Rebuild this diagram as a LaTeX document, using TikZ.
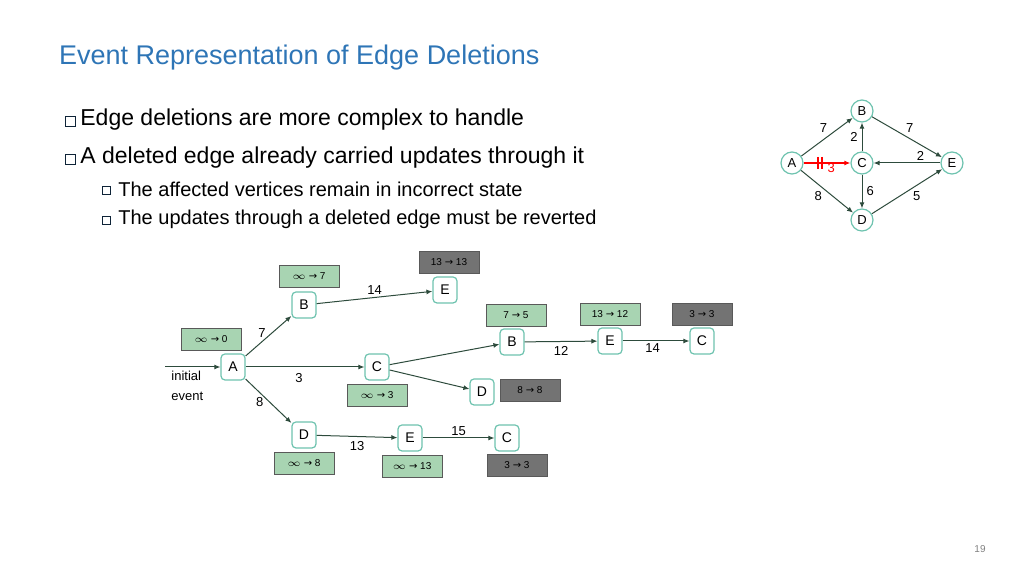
\documentclass[tikz,border=0pt]{standalone}
\usepackage{fontspec}
\setmainfont{Liberation Sans}
\newfontfamily\dv{DejaVu Sans}
\usetikzlibrary{arrows.meta}
\definecolor{ttl}{RGB}{46,117,182}
\definecolor{bord}{RGB}{110,195,175}
\definecolor{gfill}{RGB}{168,212,178}
\definecolor{dgray}{RGB}{115,115,115}
\definecolor{edg}{RGB}{45,75,60}
\tikzset{
 tn/.style={draw=bord,line width=0.6pt,rounded corners=2pt,fill=white,minimum width=12pt,minimum height=13pt,inner sep=0pt,font=\fontsize{7}{8}\selectfont},
 gbox/.style={draw=gray!70!black,line width=0.3pt,fill=gfill,minimum width=30pt,minimum height=11pt,inner sep=0pt,font=\fontsize{5}{6}\selectfont},
 kbox/.style={gbox,fill=dgray},
 ed/.style={draw=edg,line width=0.5pt,-{Latex[length=3pt,width=2.5pt]}},
 el/.style={font=\fontsize{6.5}{7}\selectfont,inner sep=0pt},
 cn/.style={circle,draw=bord,line width=0.6pt,minimum size=11pt,inner sep=0pt,fill=white,font=\fontsize{6.5}{7}\selectfont},
 bul/.style={draw=ttl!30!black,line width=0.4pt,minimum size=5pt,inner sep=0pt},
 sbul/.style={draw=ttl!30!black,line width=0.4pt,minimum size=4pt,inner sep=0pt},
}
\newcommand{\ar}{{\dv\char"2192}}
\begin{document}
\begin{tikzpicture}[x=0.5pt,y=-0.5pt]
\useasboundingbox (0,0) rectangle (1024,576);
\node[anchor=west,text=ttl,font=\fontsize{13.5}{15}\selectfont] (title) at (52,58) {Event Representation of Edge Deletions};
\node[bul] (b1) at (70,121) {};
\node[anchor=west,font=\fontsize{11.5}{13}\selectfont,inner sep=0pt] (t1) at (80,120) {Edge deletions are more complex to handle};
\node[bul] (b2) at (70,159) {};
\node[anchor=west,font=\fontsize{11.5}{13}\selectfont,inner sep=0pt] (t2) at (80,158) {A deleted edge already carried updates through it};
\node[sbul] (b3) at (106,190) {};
\node[anchor=west,font=\fontsize{10}{12}\selectfont,inner sep=0pt] (t3) at (118,189) {The affected vertices remain in incorrect state};
\node[sbul] (b4) at (106,220) {};
\node[anchor=west,font=\fontsize{10}{12}\selectfont,inner sep=0pt] (t4) at (118,219) {The updates through a deleted edge must be reverted};
% small graph
\node[cn] (gB) at (862,111) {B};
\node[cn] (gA) at (792,163) {A};
\node[cn] (gC) at (862,163) {C};
\node[cn] (gE) at (952,163) {E};
\node[cn] (gD) at (862,220) {D};
\draw[ed] (gA) -- (gB) node[el,pos=0.55,above left=1pt] {7};
\draw[ed] (gB) -- (gE) node[el,pos=0.45,above right=1pt] {7};
\draw[ed] (gC) -- (gB) node[el,midway,left=2pt] {2};
\draw[ed] (gE) -- (gC) node[el,pos=0.3,above=1pt] {2};
\draw[ed] (gC) -- (gD) node[el,midway,right=2pt] {6};
\draw[ed] (gA) -- (gD) node[el,pos=0.45,below left=1pt] {8};
\draw[ed] (gD) -- (gE) node[el,pos=0.55,below right=1pt] {5};
\draw[red,line width=0.6pt,-{Latex[length=3pt,width=2.5pt]}] (gA) -- (gC) node[el,pos=0.5,below right=0pt,text=red] {3};
\draw[red,line width=1.2pt] (818,157) -- (818,169) (822,157) -- (822,169);
% tree
\node[tn] (A) at (233,367) {A};
\node[tn] (B) at (304,305) {B};
\node[tn] (E1) at (445,290) {E};
\node[tn] (C) at (377,367) {C};
\node[tn] (B2) at (512,342) {B};
\node[tn] (E2) at (610,341) {E};
\node[tn] (C2) at (702,341) {C};
\node[tn] (D2) at (482,392) {D};
\node[tn] (D) at (304,435) {D};
\node[tn] (E3) at (410,438) {E};
\node[tn] (C3) at (507,438) {C};
\coordinate (init) at (165,367);
\draw[ed] (init) -- (A);
\node[font=\fontsize{6.5}{10}\selectfont,align=left,anchor=north west,inner sep=0pt] (ie) at (171,371) {initial\\event};
\draw[ed] (A) -- (B) node[el,pos=0.45,above left=0pt] {7};
\draw[ed] (A) -- (C) node[el,pos=0.45,below=3pt] {3};
\draw[ed] (A) -- (D) node[el,pos=0.4,below left=0pt] {8};
\draw[ed] (B) -- (E1) node[el,pos=0.5,above=1pt] {14};
\draw[ed] (C) -- (B2);
\draw[ed] (C) -- (D2);
\draw[ed] (B2) -- (E2) node[el,pos=0.5,below=2pt] {12};
\draw[ed] (E2) -- (C2) node[el,pos=0.45,below=1pt] {14};
\draw[ed] (D) -- (E3) node[el,pos=0.5,below=2pt] {13};
\draw[ed] (E3) -- (C3) node[el,pos=0.5,above=1pt] {15};
\node[gbox] (l1) at (309,276) {$\infty$ \ar\ 7};
\node[kbox] (l2) at (449,262) {13 \ar\ 13};
\node[gbox] (l3) at (211,339) {$\infty$ \ar\ 0};
\node[gbox] (l4) at (516,315) {7 \ar\ 5};
\node[gbox] (l5) at (610,314) {13 \ar\ 12};
\node[kbox] (l6) at (702,314) {3 \ar\ 3};
\node[gbox] (l7) at (377,395) {$\infty$ \ar\ 3};
\node[kbox] (l8) at (530,390) {8 \ar\ 8};
\node[gbox] (l9) at (304,463) {$\infty$ \ar\ 8};
\node[gbox] (l10) at (412,466) {$\infty$ \ar\ 13};
\node[kbox] (l11) at (517,465) {3 \ar\ 3};
\node[font=\fontsize{5}{6}\selectfont,text=gray] (pg) at (980,549) {19};
\end{tikzpicture}
\end{document}
